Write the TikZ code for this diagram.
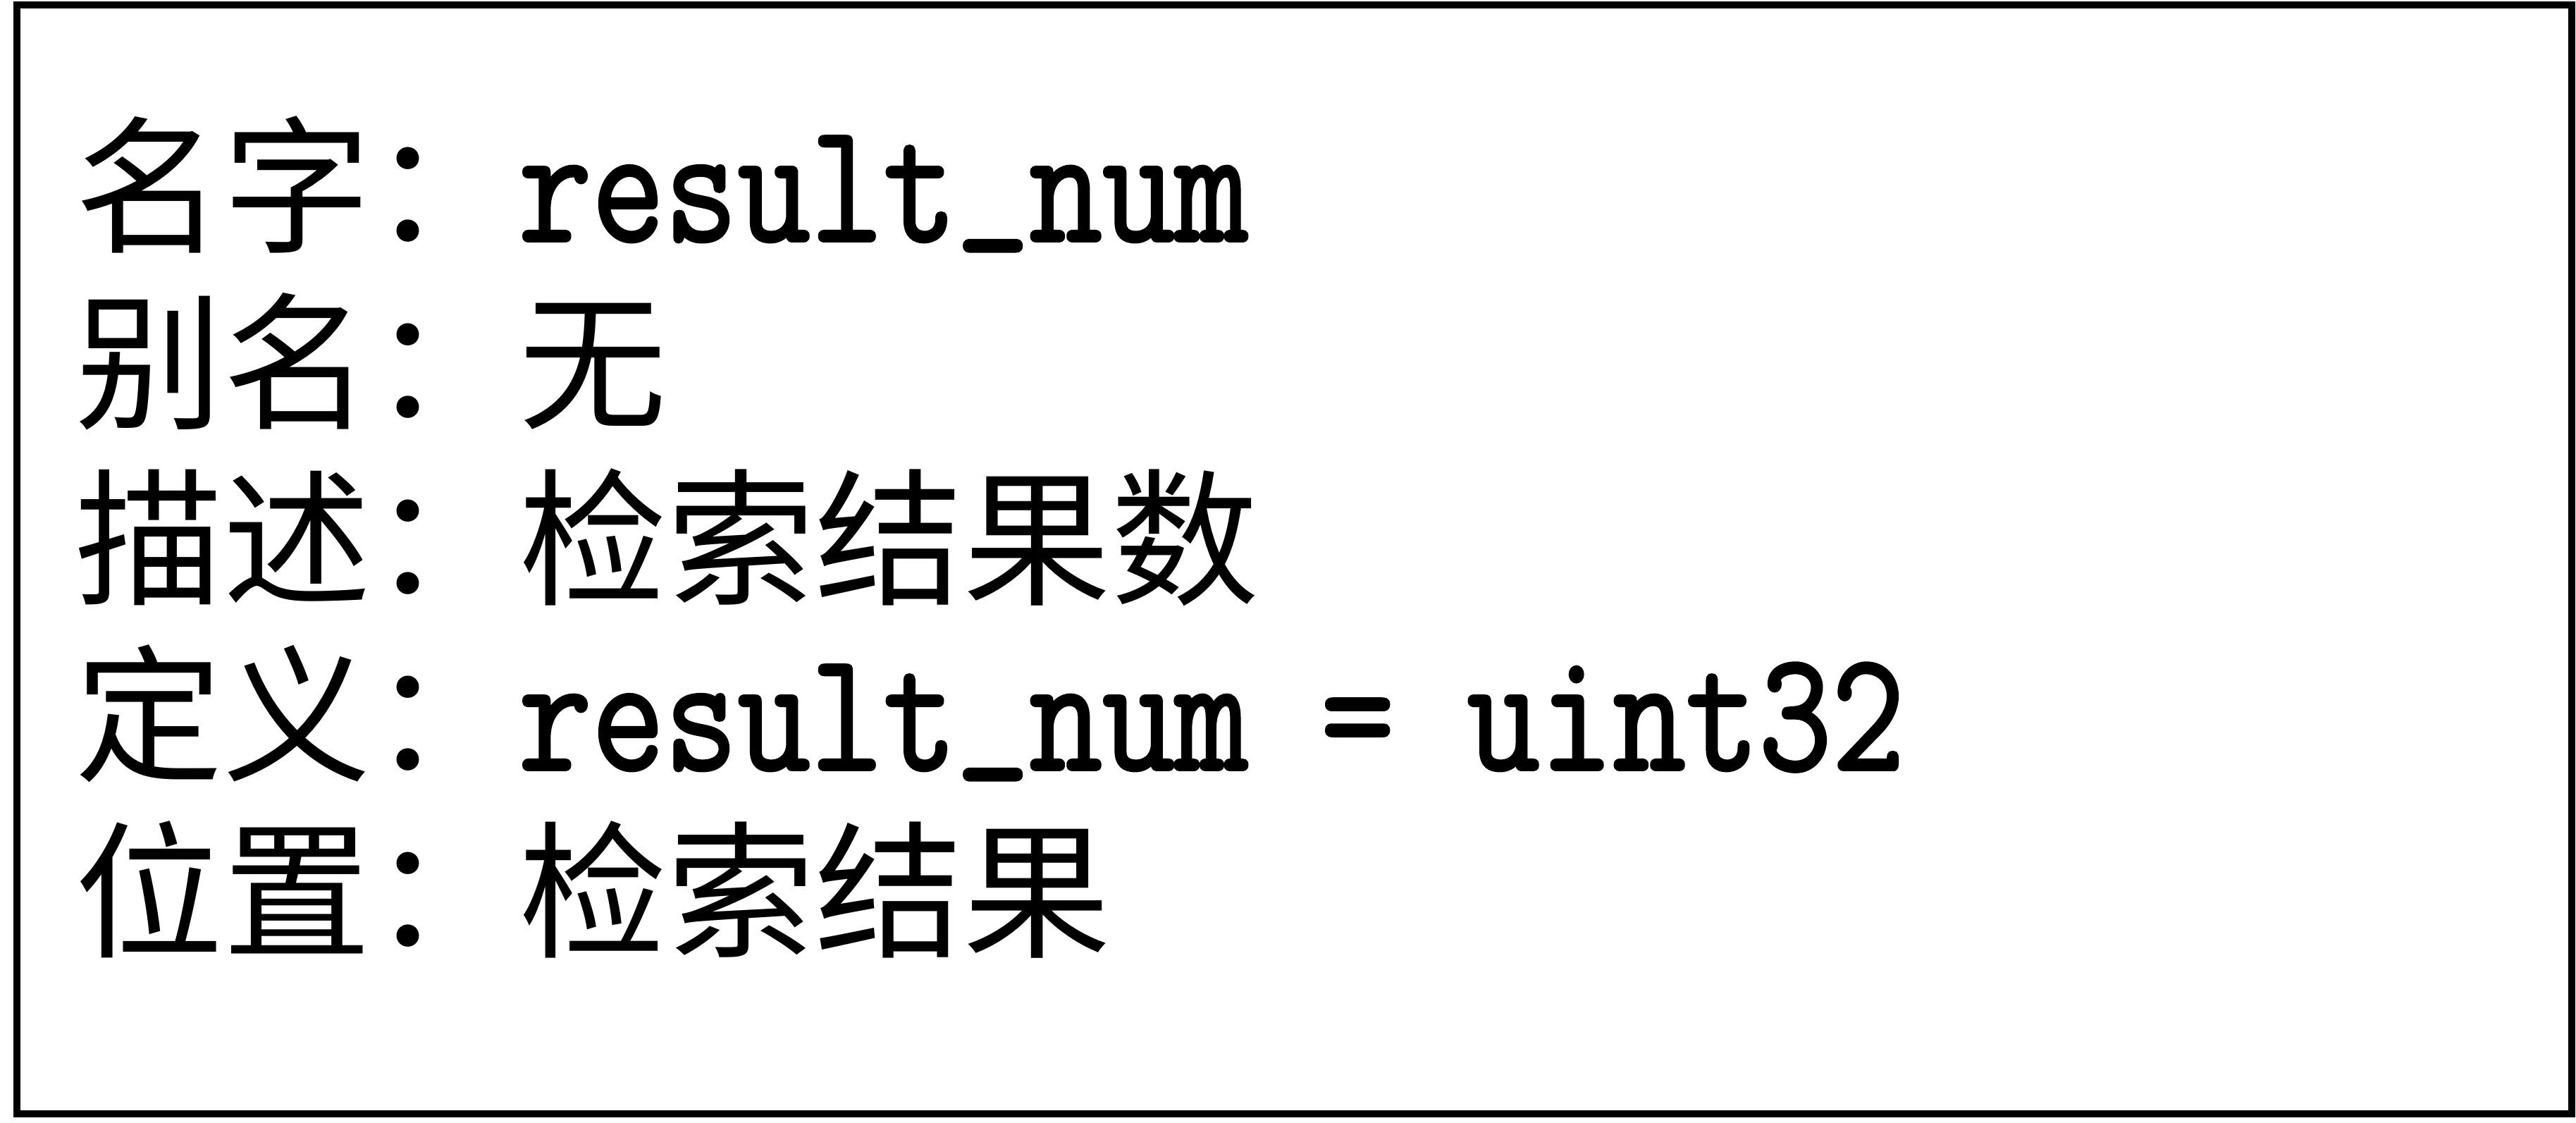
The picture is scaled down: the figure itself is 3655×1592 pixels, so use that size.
\documentclass[tikz,border=0pt]{standalone}
\usepackage{fontspec}
\setmainfont{Noto Sans CJK SC}
\newfontfamily\lmono{Latin Modern Mono}[Scale=1.16,FakeStretch=0.825,FakeBold=1.6]
\tikzset{
  rowtext/.style={anchor=base west, inner sep=0pt, font=\fontsize{42pt}{50pt}\selectfont},
  frame/.style={draw=black, line width=2pt}
}
\newcommand{\lt}[1]{{\lmono #1}}
\newcommand{\us}{\raisebox{0.14em}{\_}}
\begin{document}
\begin{tikzpicture}[x=0.2pt,y=-0.2pt]
\useasboundingbox (0,0) rectangle (3655,1592);
\draw[frame] (24,7) rectangle (3649,1580);
\node[rowtext] (l1) at (105,342) {名字：\lt{result\us num}};
\node[rowtext] (l2) at (105,592) {别名：无};
\node[rowtext] (l3) at (105,842) {描述：检索结果数};
\node[rowtext] (l4) at (105,1092) {定义：\lt{result\us num = uint32}};
\node[rowtext] (l5) at (105,1342) {位置：检索结果};
\end{tikzpicture}
\end{document}
